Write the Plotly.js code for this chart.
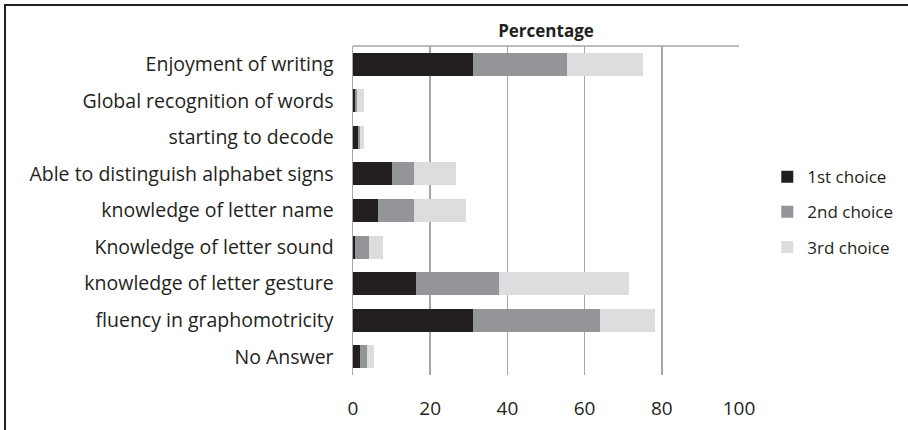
<!DOCTYPE html>
<html>
<head>
<meta charset="utf-8">
<script src="https://cdn.plot.ly/plotly-3.0.1.min.js"></script>
<style>
html,body{margin:0;padding:0;background:#fff;}
#frame{position:absolute;left:4px;top:4px;width:904px;height:426px;border-top:2px solid #231f20;border-left:2px solid #231f20;box-sizing:border-box;}
#chart{width:902px;height:424px;}
</style>
</head>
<body>
<div id="frame"><div id="chart"></div></div>
<script>
const categories = [
  "Enjoyment of writing",
  "Global recognition of words",
  "starting to decode",
  "Able to distinguish alphabet signs",
  "knowledge of letter name",
  "Knowledge of letter sound",
  "knowledge of letter gesture",
  "fluency in graphomotricity",
  "No Answer"
];
const firstChoice  = [31.1, 0.6, 1.2, 10.2, 6.6, 0.4, 16.3, 31.1, 1.7];
const secondChoice = [24.3, 0.4, 0.6, 5.6, 9.2, 3.7, 21.5, 32.9, 1.8];
const thirdChoice  = [19.7, 1.9, 1.1, 11.0, 13.5, 3.8, 33.6, 14.2, 1.9];
const seriesNames = ["1st choice", "2nd choice", "3rd choice"];
const seriesColors = ["#231f20", "#939598", "#dcdddf"];
const xTicks = [0, 20, 40, 60, 80, 100];

const allSeries = [firstChoice, secondChoice, thirdChoice];
const traces = allSeries.map((vals, i) => ({
  type: "bar",
  orientation: "h",
  name: seriesNames[i],
  y: categories,
  x: vals,
  marker: {color: seriesColors[i], line: {width: 0}},
  legendgroup: "g" + i,
  hoverinfo: "x+y+name"
}));

const layout = {
  barmode: "stack",
  bargap: 0.37,
  width: 902,
  height: 424,
  margin: {l: 347, r: 169, t: 40, b: 55, autoexpand: false},
  paper_bgcolor: "#fff",
  plot_bgcolor: "#fff",
  font: {family: "Open Sans, sans-serif", size: 17, color: "#231f20"},
  title: {
    text: "<b>Percentage</b>",
    font: {family: "Open Sans, sans-serif", size: 17, color: "#231f20"},
    xref: "paper", x: 0.5, xanchor: "center",
    yref: "container", y: 0.94, yanchor: "middle"
  },
  xaxis: {
    range: [0, 100],
    tickvals: xTicks,
    ticktext: xTicks.map(String),
    showgrid: true,
    gridcolor: "#a6a6a6",
    gridwidth: 1.5,
    zeroline: false,
    showline: false,
    ticks: "",
    ticklabelstandoff: 20,
    tickfont: {size: 19, color: "#231f20"},
    fixedrange: true
  },
  yaxis: {
    autorange: "reversed",
    showgrid: false,
    zeroline: false,
    showline: true,
    linecolor: "#a6a6a6",
    linewidth: 1.5,
    ticks: "",
    ticklabelstandoff: 14,
    tickfont: {size: 19.5, color: "#231f20"},
    fixedrange: true
  },
  shapes: [{
    type: "line", xref: "x domain", yref: "y domain",
    x0: 0, x1: 1, y0: 1, y1: 1,
    line: {color: "#a6a6a6", width: 1.5}
  }],
  showlegend: true,
  legend: {
    xref: "container", x: 0.844, xanchor: "left",
    y: 0.495, yanchor: "middle",
    traceorder: "grouped",
    tracegroupgap: 10,
    font: {size: 17, color: "#231f20"},
    bgcolor: "rgba(0,0,0,0)"
  }
};

Plotly.newPlot("chart", traces, layout, {displayModeBar: false, staticPlot: true});
</script>
</body>
</html>
